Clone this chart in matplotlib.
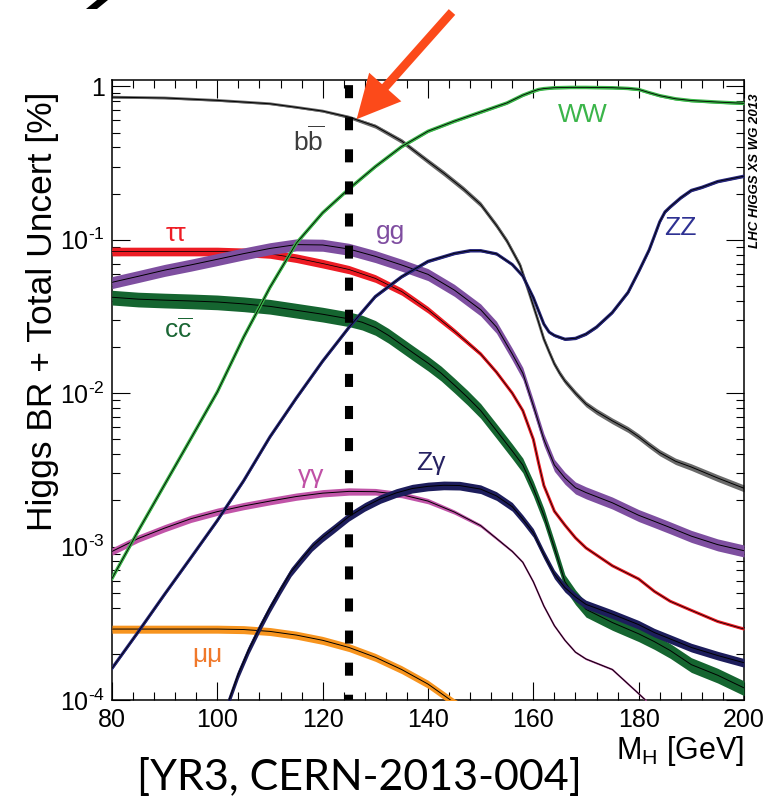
import numpy as np
import matplotlib
matplotlib.use('Agg')
import matplotlib.pyplot as plt
from matplotlib import font_manager
from matplotlib.ticker import MultipleLocator, LogLocator, NullFormatter, FuncFormatter
from matplotlib.patches import Polygon
from matplotlib.transforms import offset_copy

plt.rcParams['font.family'] = ['Liberation Sans', 'DejaVu Sans']
plt.rcParams['mathtext.fontset'] = 'custom'
plt.rcParams['mathtext.rm'] = 'Liberation Sans'
plt.rcParams['mathtext.it'] = 'Liberation Sans:italic'
plt.rcParams['mathtext.bf'] = 'Liberation Sans:bold'
plt.rcParams['lines.scale_dashes'] = False

# --- branching ratios vs Higgs mass [GeV] ---
mh_bb = [80, 90, 100, 105, 110, 115, 120, 125, 130, 135, 140, 143, 146.7, 150, 153, 155, 157.5, 159.4, 161,
         162, 163, 164, 165, 166, 168, 170, 172, 175, 178, 180, 182, 184, 187, 190, 195, 200]
br_bb = [0.85, 0.84, 0.81, 0.79, 0.77, 0.73, 0.69, 0.63, 0.55, 0.44, 0.325, 0.272, 0.215, 0.17, 0.124, 0.098, 0.068, 0.043, 0.029,
         0.0225, 0.0186, 0.0155, 0.0135, 0.012, 0.010, 0.0085, 0.0076, 0.0066, 0.0058, 0.0052, 0.0046, 0.0041, 0.0036, 0.0033, 0.0028, 0.0024]
unc_bb = [0.012, 0.012, 0.012, 0.012, 0.012, 0.012, 0.015, 0.022, 0.03, 0.035, 0.038, 0.04, 0.04, 0.04, 0.04, 0.04, 0.04, 0.04, 0.04,
          0.04, 0.04, 0.04, 0.042, 0.042, 0.042, 0.042, 0.044, 0.044, 0.045, 0.046, 0.046, 0.047, 0.048, 0.05, 0.052, 0.052]

mh_ww = [80, 85, 90, 95, 100, 105, 110, 115, 120, 125, 130, 135, 140, 145, 150, 155, 158, 160, 161, 162, 164, 167,
         170, 175, 178, 180, 182, 184, 187, 190, 195, 200]
br_ww = [6.2e-4, 1.27e-3, 2.54e-3, 5.08e-3, 0.0102, 0.0232, 0.049, 0.095, 0.150, 0.215, 0.30, 0.405, 0.51, 0.593, 0.68, 0.78, 0.876,
         0.93, 0.955, 0.967, 0.98, 0.985, 0.985, 0.98, 0.97, 0.955, 0.91, 0.87, 0.83, 0.808, 0.79, 0.775]

mh_zz = [80, 85, 90, 95, 100, 105, 110, 115, 120, 125, 130, 135, 140, 145, 148, 150, 153, 156, 158, 160, 162, 163, 164, 166,
         168, 170, 172, 175, 178, 180, 182, 183, 184, 185, 186, 188, 190, 192, 195, 200]
br_zz = [1.61e-4, 2.79e-4, 4.9e-4, 8.5e-4, 1.48e-3, 2.69e-3, 5.2e-3, 9.3e-3, 0.0162, 0.0269, 0.0427, 0.0575, 0.0724, 0.0815, 0.085,
         0.085, 0.081, 0.069, 0.058, 0.042, 0.0282, 0.025, 0.0238, 0.0225, 0.0228, 0.0243, 0.027, 0.0336, 0.0455, 0.062, 0.086,
         0.106, 0.131, 0.152, 0.164, 0.188, 0.21, 0.22, 0.24, 0.26]

mh_tt = [80, 90, 100, 105, 110, 115, 120, 125, 130, 135, 140, 145, 150, 153, 156, 158, 160, 161, 162, 164, 166, 168, 170,
         175, 180, 183, 186, 190, 195, 200]
br_tt = [0.084, 0.084, 0.084, 0.083, 0.081, 0.076, 0.070, 0.064, 0.056, 0.046, 0.035, 0.0254, 0.018, 0.0137, 0.010, 0.0077,
         0.0050, 0.0035, 0.0025, 0.0017, 0.00138, 0.00114, 0.00098, 0.00075, 0.000615, 0.00051, 0.00044, 0.000384, 0.000325, 0.00029]
unc_tt = [0.065, 0.065, 0.065, 0.065, 0.065, 0.065, 0.065, 0.062, 0.058, 0.054, 0.05, 0.04, 0.03, 0.025, 0.02, 0.015, 0.012,
          0.01, 0.01, 0.01, 0.01, 0.01, 0.01, 0.01, 0.01, 0.01, 0.01, 0.01, 0.01, 0.01]

mh_gg = [80, 85, 90, 95, 100, 105, 110, 115, 120, 125, 130, 135, 140, 145, 150, 153, 156, 158, 160, 162, 164, 166, 168, 170,
         175, 180, 183, 186, 190, 195, 200]
br_gg = [0.0528, 0.0578, 0.0634, 0.0686, 0.0746, 0.0812, 0.0878, 0.093, 0.0925, 0.087, 0.078, 0.0685, 0.0595, 0.047, 0.035,
         0.027, 0.018, 0.0135, 0.0083, 0.005, 0.0034, 0.0028, 0.00242, 0.00225, 0.00193, 0.0016, 0.00146, 0.00133, 0.00117, 0.00103, 0.00094]
unc_gg = 0.09

mh_cc = [80, 85, 90, 95, 100, 105, 110, 115, 120, 125, 127.5, 130, 132.5, 135, 137.5, 140, 142.5, 145, 147.5, 150, 153, 156,
         158, 160, 162, 164, 166, 168, 170, 175, 180, 183, 186, 190, 195, 200]
br_cc = [0.0422, 0.041, 0.0404, 0.0399, 0.0393, 0.0382, 0.0368, 0.0347, 0.0327, 0.0305, 0.029, 0.0268, 0.0238, 0.0207, 0.018,
         0.0157, 0.0135, 0.0113, 0.0094, 0.0077, 0.0057, 0.0042, 0.0034, 0.0024, 0.0016, 0.00098, 0.00059, 0.00047, 0.00039,
         0.00032, 0.00027, 0.00024, 0.00021, 0.00017, 0.000145, 0.00012]
unc_cc = 0.11

mh_aa = [80, 85, 90, 95, 100, 105, 110, 115, 120, 125, 130, 135, 140, 145, 150, 153, 156, 158, 160, 162,
         164, 166, 168, 170, 175, 180, 183]
br_aa = [9.3e-4, 1.13e-3, 1.32e-3, 1.52e-3, 1.69e-3, 1.84e-3, 1.98e-3, 2.12e-3, 2.23e-3, 2.29e-3,
         2.28e-3, 2.18e-3, 1.98e-3, 1.68e-3, 1.37e-3, 1.13e-3, 9.3e-4, 7.9e-4, 5.9e-4, 4.1e-4,
         3.05e-4, 2.45e-4, 2.05e-4, 1.85e-4, 1.58e-4, 1.1e-4, 8.8e-5]
unc_aa = [0.055, 0.055, 0.055, 0.055, 0.055, 0.055, 0.055, 0.055, 0.055, 0.055, 0.05, 0.045, 0.04, 0.032, 0.025, 0.02,
          0.015, 0.012, 0.01, 0.01, 0.01, 0.01, 0.01, 0.01, 0.01, 0.01, 0.01]

mh_zg = [102, 104, 106, 108, 110, 112, 114, 116, 118, 120, 122, 125, 128, 131, 134, 137, 140, 143, 146, 150, 153, 156, 158,
         160, 162, 164, 166, 168, 170, 175, 180, 183, 186, 190, 195, 200]
br_zg = [9.5e-5, 1.48e-4, 2.14e-4, 2.95e-4, 3.98e-4, 5.25e-4, 6.84e-4, 8.3e-4, 1.0e-3, 1.15e-3, 1.3e-3, 1.57e-3, 1.82e-3,
         2.05e-3, 2.24e-3, 2.39e-3, 2.47e-3, 2.51e-3, 2.5e-3, 2.37e-3, 2.14e-3, 1.82e-3, 1.51e-3, 1.23e-3, 8.9e-4, 6.6e-4,
         5.4e-4, 4.7e-4, 4.2e-4, 3.63e-4, 3.1e-4, 2.75e-4, 2.5e-4, 2.2e-4, 1.95e-4, 1.75e-4]
unc_zg = 0.065

mh_mm = [80, 85, 90, 95, 100, 105, 110, 115, 120, 125, 130, 135, 140, 145, 150]
br_mm = [2.9e-4, 2.9e-4, 2.9e-4, 2.9e-4, 2.9e-4, 2.88e-4, 2.8e-4, 2.65e-4, 2.45e-4, 2.2e-4,
         1.9e-4, 1.58e-4, 1.27e-4, 9.6e-5, 7.8e-5]
unc_mm = 0.06

m_higgs = 125

# narrow Helvetica-like face for the axis numbers if it is installed
names = {f.name for f in font_manager.fontManager.ttflist}
if 'Liberation Sans Narrow' in names:
    num_family, num_size = 'Liberation Sans Narrow', 21
else:
    num_family, num_size = 'Liberation Sans', 18

fig = plt.figure(figsize=(7.84, 8.0), dpi=100)
ax = fig.add_axes([112 / 784, 100 / 800, 632 / 784, 620 / 800])
ax.set_yscale('log')
ax.set_xlim(80, 200)
ax.set_ylim(1e-4, 1.1)


def draw_channel(m, br, unc, band, zo, edge_lw=1.8, core_lw=0.7):
    m = np.asarray(m, float)
    br = np.asarray(br, float)
    unc = np.asarray(unc, float)
    ax.fill_between(m, br * (1 - unc), br * (1 + unc), color=band, lw=0, zorder=zo)
    ax.plot(m, br, color=band, lw=edge_lw, zorder=zo + 0.1, solid_joinstyle='round')
    ax.plot(m, br, color='black', lw=core_lw, zorder=zo + 0.2, solid_joinstyle='round')


draw_channel(mh_bb, br_bb, unc_bb, '#6a6a6a', 2, edge_lw=2.0)
draw_channel(mh_tt, br_tt, unc_tt, '#ed1c24', 3, edge_lw=2.2, core_lw=0.55)
draw_channel(mh_gg, br_gg, unc_gg, '#7e4fa0', 4)
draw_channel(mh_cc, br_cc, unc_cc, '#156530', 5)
draw_channel(mh_mm, br_mm, unc_mm, '#f7941e', 6)
draw_channel(mh_aa, br_aa, unc_aa, '#c154a8', 7, edge_lw=1.3)
draw_channel(mh_zg, br_zg, unc_zg, '#1d1d5c', 8)
draw_channel(mh_ww, br_ww, 0.02, '#3cb64a', 9, edge_lw=2.4, core_lw=0.6)
draw_channel(mh_zz, br_zz, 0.02, '#26267a', 10, edge_lw=2.2, core_lw=0.6)

# channel labels
lab = dict(fontsize=19, ha='center', va='center', zorder=15)
ax.text(117.4, 0.44, r'b$\overline{\mathrm{b}}$', color='#3d3d3d', **lab)
ax.text(92.2, 0.109, 'ττ', color='#ee1c24', **lab)
ax.text(132.8, 0.112, 'gg', color='#7f4da0', **lab)
ax.text(92.5, 0.0258, r'c$\overline{\mathrm{c}}$', color='#1a6634', **lab)
ax.text(169.4, 0.646, 'WW', color='#3bb54a', **lab)
ax.text(188.0, 0.1197, 'ZZ', color='#2e3192', **lab)
ax.text(117.8, 2.9e-3, 'γγ', color='#c051a6', **lab)
ax.text(140.6, 3.5e-3, 'Zγ', color='#262262', **lab)
ax.text(98.2, 1.97e-4, 'μμ', color='#f0782a', **lab)

# dashed marker at the measured mass
ax.plot([m_higgs, m_higgs], [1.1, 1e-4], color='black', lw=5.8,
        linestyle=(19.4, (9.4, 13.7)), solid_capstyle='butt', zorder=20)

# arrow pointing at the bb branching ratio at 125 GeV
tip = offset_copy(ax.transData, fig=fig, x=5.5, y=-1.5, units='points')
ax.annotate('', xy=(m_higgs, br_bb[mh_bb.index(m_higgs)]), xycoords=tip,
            xytext=(452, 788), textcoords='figure pixels',
            arrowprops=dict(width=6.2, headwidth=31, headlength=31, color='#fc4a1a', lw=0),
            zorder=21, annotation_clip=False)

# axes styling
ax.xaxis.set_major_locator(MultipleLocator(20))
ax.xaxis.set_minor_locator(MultipleLocator(4))
ax.yaxis.set_major_locator(LogLocator(base=10, numticks=10))
ax.yaxis.set_minor_locator(LogLocator(base=10, subs=np.arange(2, 10), numticks=10))
ax.yaxis.set_minor_formatter(NullFormatter())


def ylab(v, pos):
    e = int(round(np.log10(v)))
    return '1' if e == 0 else r'$10^{\text{-}%d}$' % (-e)


ax.yaxis.set_major_formatter(FuncFormatter(ylab))
ax.tick_params(which='both', direction='in', top=True, right=True, width=0.8, labelsize=num_size)
ax.tick_params(which='major', length=13)
ax.tick_params(which='minor', length=6)
ax.tick_params(axis='x', pad=6)
ax.tick_params(axis='y', pad=5)
for t in ax.get_xticklabels() + ax.get_yticklabels():
    t.set_family([num_family, 'DejaVu Sans'])
for s in ax.spines.values():
    s.set_linewidth(1.1)

ax.set_ylabel('Higgs BR + Total Uncert [%]', fontsize=25.5, loc='top')
ax.yaxis.set_label_coords(-0.084, 0.981)
ax.set_xlabel(r'M$_{\mathrm{H}}$ [GeV]', fontsize=22, loc='right', labelpad=1)

ax.text(1.017, 0.979, 'LHC HIGGS XS WG 2013', transform=ax.transAxes, rotation=90,
        ha='center', va='top', fontsize=9.5, fontweight='bold', fontstyle='italic')

fig.text(137 / 784, 10 / 800, '[YR3, CERN-2013-004]', fontsize=31, family=['Lato', 'DejaVu Sans'],
         va='baseline', ha='left')

# tail of a heading stroke cut by the top edge
fig.patches.append(Polygon([(86, 791), (97, 791), (108, 800), (97, 800)], closed=True,
                           transform=None, facecolor='black', edgecolor='none'))

fig.savefig('out.png', dpi=100)
